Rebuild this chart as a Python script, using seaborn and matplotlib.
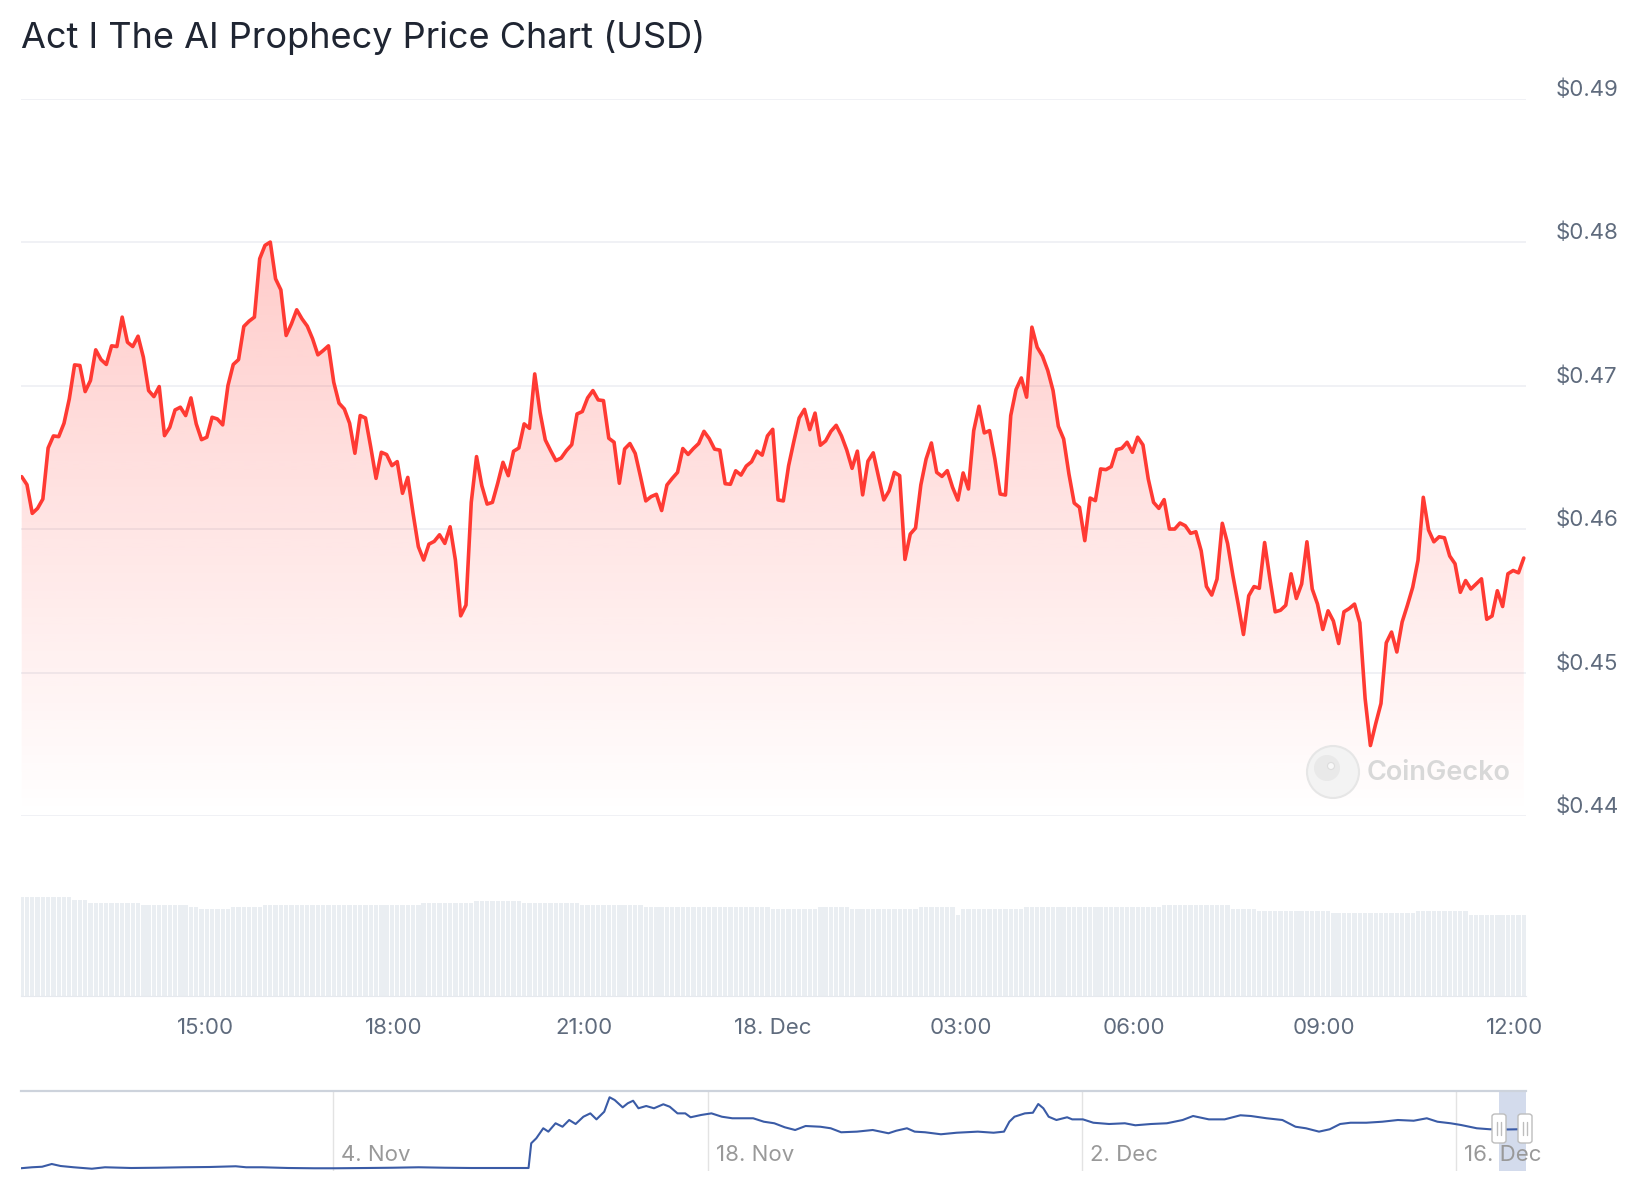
import numpy as np
import pandas as pd
import matplotlib
matplotlib.use("Agg")
import matplotlib.pyplot as plt
import matplotlib.transforms as mtransforms
from matplotlib.patches import FancyBboxPatch, Circle
from matplotlib.lines import Line2D
import seaborn as sns

# price in USD, one point about every 5 minutes (17 Dec 12:05 -> 18 Dec 12:10)
price_a = [0.46365, 0.46309, 0.46109, 0.46144, 0.46209, 0.46565, 0.46649, 0.46644, 0.46737, 0.46907,
           0.47144, 0.47140, 0.46958, 0.47035, 0.47249, 0.47181, 0.47147, 0.47277, 0.47272, 0.47477,
           0.47302, 0.47272, 0.47344, 0.47198, 0.46965, 0.46923, 0.46993, 0.46651, 0.46709, 0.46830,
           0.46849, 0.46791, 0.46914, 0.46733, 0.46623, 0.46640, 0.46779, 0.46767, 0.46726, 0.47000,
           0.47147, 0.47181, 0.47412, 0.47449, 0.47477, 0.47884, 0.47977, 0.48000, 0.47744, 0.47667,
           0.47349, 0.47430, 0.47528, 0.47465, 0.47414, 0.47326, 0.47214, 0.47244]
price_b = [0.47277, 0.47023, 0.46877, 0.46837, 0.46737, 0.46528, 0.46791, 0.46774, 0.46570, 0.46353,
           0.46535, 0.46519, 0.46442, 0.46470, 0.46249, 0.46360, 0.46109, 0.45877, 0.45784, 0.45895,
           0.45914, 0.45960, 0.45900, 0.46016, 0.45784, 0.45395, 0.45470, 0.46186, 0.46505, 0.46302,
           0.46174, 0.46186, 0.46319, 0.46465, 0.46372, 0.46542, 0.46565, 0.46733, 0.46702, 0.47081,
           0.46814, 0.46621, 0.46547, 0.46477, 0.46495, 0.46547, 0.46588, 0.46802, 0.46819, 0.46914,
           0.46965, 0.46900, 0.46895, 0.46633, 0.46605, 0.46319, 0.46558]
price_c = [0.46596, 0.46527, 0.46365, 0.46196, 0.46226, 0.46242, 0.46129, 0.46307, 0.46353, 0.46395,
           0.46561, 0.46520, 0.46561, 0.46596, 0.46681, 0.46630, 0.46557, 0.46550, 0.46316, 0.46312,
           0.46406, 0.46376, 0.46439, 0.46469, 0.46543, 0.46515, 0.46649, 0.46695, 0.46203, 0.46196,
           0.46441, 0.46612, 0.46774, 0.46834, 0.46693, 0.46808, 0.46584, 0.46614, 0.46681, 0.46723,
           0.46649, 0.46550, 0.46423, 0.46543, 0.46238, 0.46473, 0.46531, 0.46365, 0.46203, 0.46266,
           0.46395, 0.46372, 0.45788, 0.45965, 0.46007, 0.46307]
price_d = [0.46488, 0.46600, 0.46395, 0.46367, 0.46407, 0.46291, 0.46202, 0.46391, 0.46279, 0.46686,
           0.46856, 0.46670, 0.46686, 0.46488, 0.46244, 0.46237, 0.46791, 0.46972, 0.47053, 0.46919,
           0.47407, 0.47267, 0.47205, 0.47105, 0.46965, 0.46716, 0.46628, 0.46384, 0.46181, 0.46151,
           0.45919, 0.46216, 0.46198, 0.46419, 0.46414, 0.46435, 0.46553, 0.46563, 0.46605, 0.46535,
           0.46640, 0.46586, 0.46349, 0.46186, 0.46144, 0.46205, 0.46000, 0.46000, 0.46042, 0.46023,
           0.45970, 0.45981, 0.45849, 0.45600, 0.45540, 0.45651]
price_e = [0.46040, 0.45899, 0.45676, 0.45477, 0.45265, 0.45535, 0.45599, 0.45587, 0.45906, 0.45653,
           0.45423, 0.45434, 0.45469, 0.45688, 0.45516, 0.45617, 0.45911, 0.45582, 0.45477, 0.45300,
           0.45430, 0.45359, 0.45202, 0.45423, 0.45446, 0.45477, 0.45347, 0.44819, 0.44491, 0.44643,
           0.44784, 0.45207, 0.45282, 0.45143, 0.45352, 0.45469, 0.45594, 0.45782, 0.46221, 0.45993,
           0.45911, 0.45946, 0.45939, 0.45812, 0.45758, 0.45559, 0.45641, 0.45582, 0.45617, 0.45653,
           0.45371, 0.45394, 0.45570, 0.45460, 0.45688, 0.45711, 0.45695, 0.45798]
price = price_a + price_b + price_c + price_d + price_e

# rolling volume, relative units (plateaus)
volume = ([99.0] * 10 + [95.7] * 3 + [93.3] * 10 + [91.3] * 9 + [89.0] * 2 + [87.3] * 6
          + [89.3] * 6 + [91.3] * 30 + [93.3] * 10 + [95.3] * 9 + [93.3] * 11 + [91.3] * 12
          + [89.3] * 24 + [87.3] * 9 + [89.3] * 6 + [87.3] * 13 + [89.3] * 7 + [81.3] * 1
          + [86.7] * 12 + [89.3] * 26 + [91.3] * 13 + [87.3] * 5 + [85.3] * 14 + [83.0] * 16
          + [85.3] * 10 + [81.3] * 11)

tick_pos = [34.66, 70.39, 106.3, 141.9, 177.6, 210.3, 246.2, 282.3]
tick_labels = ["15:00", "18:00", "21:00", "18. Dec", "03:00", "06:00", "09:00", "12:00"]
price_ticks = [0.44, 0.45, 0.46, 0.47, 0.48, 0.49]

# navigator: full history, days relative to 4 Nov
nav_day = [-11.70, -11.27, -10.89, -10.53, -10.20, -9.71, -9.03, -8.54, -7.56, -6.58,
           -5.61, -4.63, -3.65, -3.26, -2.67, -1.69, -0.72, 0.06, 1.24, 2.22,
           3.19, 4.17, 5.15, 6.13, 7.30, 7.40, 7.59, 7.85, 8.04, 8.31,
           8.57, 8.82, 9.06, 9.35, 9.61, 9.84, 10.13, 10.33, 10.52, 10.82,
           11.01, 11.21, 11.41, 11.70, 11.99, 12.34, 12.58, 12.87, 13.16, 13.36,
           13.75, 14.14, 14.53, 14.92, 15.31, 15.70, 16.10, 16.49, 16.88, 17.27,
           17.66, 18.21, 18.60, 18.99, 19.58, 20.17, 20.76, 21.05, 21.45, 21.74,
           22.13, 22.72, 23.31, 24.10, 24.69, 25.08, 25.28, 25.47, 25.86, 26.16,
           26.36, 26.55, 26.75, 27.04, 27.44, 27.63, 28.03, 28.42, 29.01, 29.60,
           29.99, 30.58, 31.17, 31.76, 32.15, 32.74, 33.33, 33.92, 34.31, 34.90,
           35.49, 35.98, 36.37, 36.86, 37.26, 37.65, 38.04, 38.63, 39.22, 39.81,
           40.40, 40.89, 41.29, 41.78, 42.17, 42.76, 43.25, 43.92, 44.52]
nav_price = [0.028, 0.039, 0.045, 0.075, 0.053, 0.039, 0.023, 0.039, 0.031, 0.034,
             0.039, 0.042, 0.050, 0.039, 0.039, 0.031, 0.028, 0.028, 0.031, 0.034,
             0.039, 0.034, 0.031, 0.031, 0.031, 0.303, 0.358, 0.468, 0.431, 0.523,
             0.485, 0.559, 0.515, 0.595, 0.632, 0.566, 0.650, 0.809, 0.779, 0.698,
             0.743, 0.771, 0.688, 0.713, 0.688, 0.732, 0.705, 0.632, 0.632, 0.589,
             0.614, 0.632, 0.595, 0.578, 0.578, 0.578, 0.540, 0.523, 0.479, 0.449,
             0.493, 0.485, 0.468, 0.424, 0.431, 0.449, 0.413, 0.441, 0.468, 0.431,
             0.424, 0.402, 0.419, 0.431, 0.419, 0.431, 0.540, 0.595, 0.632, 0.639,
             0.735, 0.688, 0.595, 0.559, 0.589, 0.566, 0.566, 0.529, 0.515, 0.523,
             0.501, 0.515, 0.523, 0.559, 0.603, 0.566, 0.566, 0.611, 0.603, 0.578,
             0.559, 0.485, 0.468, 0.431, 0.457, 0.515, 0.529, 0.529, 0.540, 0.559,
             0.551, 0.578, 0.540, 0.523, 0.504, 0.468, 0.457, 0.455, 0.458]
nav_ticks = ["2024-11-04", "2024-11-18", "2024-12-02", "2024-12-16"]
nav_tick_labels = ["4. Nov", "18. Nov", "2. Dec", "16. Dec"]

sns.set_style("white")
plt.rcParams["font.family"] = ["Inter", "DejaVu Sans"]

RED = "#ff3a33"
LABEL = "#5f6b7d"

df = pd.DataFrame({"i": np.arange(len(price)), "price": price, "volume": volume})
nav0 = pd.Timestamp("2024-11-04")
nav = pd.DataFrame({"date": nav0 + pd.to_timedelta(nav_day, unit="D"), "price": nav_price})

fig = plt.figure(figsize=(16.44, 12), dpi=100)
W, H = 1644.0, 1200.0
ax = fig.add_axes([21 / W, 384 / H, 1505 / W, 717.4 / H])
axv = fig.add_axes([21 / W, 204 / H, 1505 / W, 100 / H])
axn = fig.add_axes([21 / W, 29 / H, 1505 / W, 80 / H])
xlim = (-0.13, 284.42)

# ---- price panel
fill = ax.fill_between(df["i"], df["price"], 0.44, facecolor="none", edgecolor="none")
grad = np.zeros((256, 1, 4))
grad[..., 0] = 1.0
grad[..., 1] = 58 / 255
grad[..., 2] = 51 / 255
grad[:, 0, 3] = np.linspace(0.0, 0.26, 256)
img = ax.imshow(grad, extent=[xlim[0], xlim[1], 0.44, max(price)], origin="lower",
                aspect="auto", zorder=1, interpolation="bilinear")
img.set_clip_path(fill.get_paths()[0], transform=ax.transData)

sns.lineplot(data=df, x="i", y="price", color=RED, linewidth=2.6, ax=ax, zorder=3,
             solid_joinstyle="round")
ax.set_xlim(*xlim)
ax.set_ylim(0.44, 0.49)
ax.set_xticks([])
ax.set_xlabel("")
ax.set_ylabel("")
ax.set_yticks(price_ticks)
ax.set_yticklabels([f"${v:.2f}" for v in price_ticks])
ax.yaxis.tick_right()
ax.tick_params(axis="y", length=0, pad=21, labelsize=16, labelcolor=LABEL)
ax.grid(axis="y", color="#eceef2", linewidth=1.1)
ax.set_axisbelow(True)
for s in ax.spines.values():
    s.set_visible(False)
shift = mtransforms.ScaledTranslation(0, 0.11, fig.dpi_scale_trans)
for lbl in ax.get_yticklabels():
    lbl.set_transform(lbl.get_transform() + shift)

# watermark (positions in inches)
fig.add_artist(Circle((13.33, 4.28), 0.26, transform=fig.dpi_scale_trans,
                      facecolor="#f3f3f3", edgecolor="#e6e6e6", linewidth=1.5, zorder=5))
fig.add_artist(Circle((13.27, 4.32), 0.13, transform=fig.dpi_scale_trans,
                      facecolor="#e9e9e9", edgecolor="none", zorder=5))
fig.add_artist(Circle((13.31, 4.34), 0.035, transform=fig.dpi_scale_trans,
                      facecolor="#f8f8f8", edgecolor="#dddddd", linewidth=0.8, zorder=6))
fig.text(1367 / W, 427 / H, "CoinGecko", fontsize=19.5, fontweight="semibold",
         color="#d8d8d8", va="center", ha="left", zorder=6)

# ---- volume panel
sns.barplot(data=df, x="i", y="volume", native_scale=True, color="#eaeef2", saturation=1,
            width=0.82, errorbar=None, edgecolor="none", ax=axv)
axv.set_xlim(*xlim)
axv.set_ylim(0, 100)
axv.set_xlabel("")
axv.set_ylabel("")
axv.set_yticks([])
axv.set_xticks(tick_pos)
axv.set_xticklabels(tick_labels)
axv.tick_params(axis="x", length=10.8, width=1, color="#e3e6ea", labelsize=16,
                labelcolor=LABEL, pad=5)
for k, s in axv.spines.items():
    s.set_visible(k == "bottom")
axv.spines["bottom"].set_color("#e6e9ee")

# ---- navigator
sel0 = nav0 + pd.Timedelta(days=43.59)
sel1 = nav0 + pd.Timedelta(days=44.6)
axn.axvspan(sel0, sel1, color="#d3dbec", zorder=0.6, linewidth=0)
sns.lineplot(data=nav, x="date", y="price", color="#3a5ba6", linewidth=1.5, ax=axn, zorder=2)
axn.set_xlim(nav0 + pd.Timedelta(days=-11.68), sel1)
axn.set_ylim(-0.002, 0.878)
axn.set_xlabel("")
axn.set_ylabel("")
axn.set_yticks([])
nav_tick_dates = pd.to_datetime(nav_ticks)
axn.set_xticks(nav_tick_dates)
axn.tick_params(axis="x", length=0, labelbottom=False)
axn.grid(axis="x", color="#e3e3e3", linewidth=1)
axn.set_axisbelow(True)
for k, s in axn.spines.items():
    s.set_visible(k == "top")
axn.spines["top"].set_color("#cdd3dc")
axn.spines["top"].set_linewidth(1.6)
lbl_tr = mtransforms.offset_copy(axn.get_xaxis_transform(), fig=fig, x=8, y=-2, units="dots")
for d, t in zip(nav_tick_dates, nav_tick_labels):
    axn.text(d, 0.225, t, transform=lbl_tr, fontsize=16, color="#999999", ha="left", va="center")

# navigator handles
for hx in (1492, 1518):
    fig.add_artist(FancyBboxPatch((hx / W, 57 / H), 14 / W, 29 / H, transform=fig.transFigure,
                                  boxstyle="round,pad=0,rounding_size=0.002",
                                  facecolor="white", edgecolor="#bdbdbd", linewidth=1, zorder=7))
    for dx in (5, 9):
        fig.add_artist(Line2D([(hx + dx) / W] * 2, [65 / H, 78 / H], transform=fig.transFigure,
                              color="#bdbdbd", linewidth=1, zorder=8))

fig.text(21 / W, 1 - 37.6 / H, "Act I The AI Prophecy Price Chart (USD)", fontsize=26,
         color="#1f2532", va="center", ha="left")

fig.savefig("out.png", dpi=100, facecolor="white")
